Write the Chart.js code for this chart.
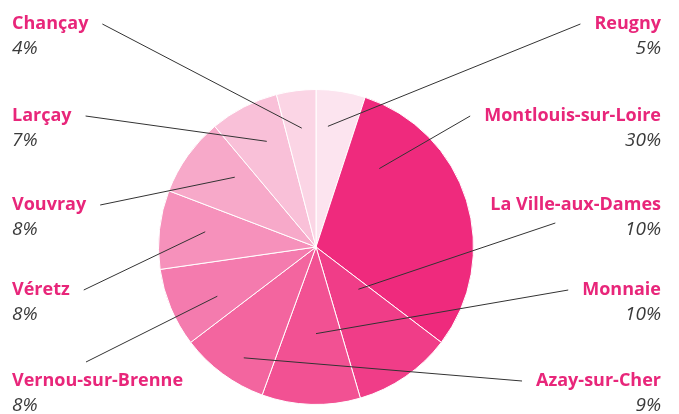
<!DOCTYPE html>
<html>
<head>
<meta charset="utf-8">
<script src="https://cdn.jsdelivr.net/npm/chart.js@4"></script>
<style>
  body { margin: 0; background: #fff; }
  #wrap { width: 679px; height: 414px; }
</style>
</head>
<body>
<div id="wrap"><canvas id="myChart" width="679" height="414"></canvas></div>
<script>
// data, clockwise from the top
const communes = ['Reugny', 'Montlouis-sur-Loire', 'La Ville-aux-Dames', 'Monnaie', 'Azay-sur-Cher',
                  'Vernou-sur-Brenne', 'Véretz', 'Vouvray', 'Larçay', 'Chançay'];
const shares = [5, 30, 10, 10, 9, 8, 8, 8, 7, 4];
const shareLabels = ['5%', '30%', '10%', '10%', '9%', '8%', '8%', '8%', '7%', '4%'];

const sliceColors = ['#fce4ef', '#ef2a7d', '#f03d88', '#f25193', '#f3659f',
                     '#f47bae', '#f691bb', '#f7a9c9', '#f9c0d8', '#fbd5e5'];

// label layout: side + row (0..4 from top)
const labelSide = ['R', 'R', 'R', 'R', 'R', 'L', 'L', 'L', 'L', 'L'];
const labelRow = [0, 1, 2, 3, 4, 4, 3, 2, 1, 0];
const rowY = [24, 116, 205, 290, 381];
// where the leader line ends inside each slice (fraction of angle, fraction of radius)
const leadAngle = [0.31, 0.19, 0.21, 0.45, 0.40, 0.37, 0.55, 0.68, 0.59, 0.53];
const leadRadius = [0.77, 0.64, 0.38, 0.55, 0.84, 0.70, 0.71, 0.68, 0.74, 0.76];

const nameFont = 'bold 18px "Open Sans", sans-serif';
const pctFont = 'italic 19px "Open Sans", sans-serif';

const outsideLabels = {
  id: 'outsideLabels',
  afterDatasetsDraw(chart) {
    const ctx = chart.ctx;
    const arcs = chart.getDatasetMeta(0).data;
    ctx.save();
    arcs.forEach((arc, i) => {
      const left = labelSide[i] === 'L';
      const y = rowY[labelRow[i]];
      const xText = left ? 12 : 661;

      ctx.font = nameFont;
      const w = ctx.measureText(communes[i]).width;
      // leader start
      let sx = left ? xText + w + 14 : xText - w - 14;
      let sy = y;
      if (communes[i] === 'Vernou-sur-Brenne') { sx = 86; sy = y - 19; }
      if (communes[i] === 'La Ville-aux-Dames') { sx = xText - w + 65; sy = y + 18; }

      const p = arc.getProps(['x', 'y', 'startAngle', 'endAngle', 'outerRadius'], true);
      const a = p.startAngle + leadAngle[i] * (p.endAngle - p.startAngle);
      const r = leadRadius[i] * p.outerRadius;
      const ex = p.x + Math.cos(a) * r;
      const ey = p.y + Math.sin(a) * r;

      ctx.strokeStyle = '#333';
      ctx.lineWidth = 1;
      ctx.beginPath();
      ctx.moveTo(sx, sy);
      ctx.lineTo(ex, ey);
      ctx.stroke();

      ctx.textBaseline = 'middle';
      ctx.textAlign = left ? 'left' : 'right';
      ctx.fillStyle = '#e8267a';
      ctx.font = nameFont;
      ctx.fillText(communes[i], xText, y);
      ctx.fillStyle = '#3a3a3a';
      ctx.font = pctFont;
      ctx.fillText(shareLabels[i], xText, y + 25);
    });
    ctx.restore();
  }
};

new Chart(document.getElementById('myChart'), {
  type: 'pie',
  data: {
    labels: communes,
    datasets: [{
      data: shares,
      backgroundColor: sliceColors,
      borderColor: '#fff',
      borderWidth: 1
    }]
  },
  options: {
    responsive: false,
    animation: false,
    layout: { padding: { left: 158, right: 205, top: 89, bottom: 9 } },
    plugins: {
      legend: { display: false },
      tooltip: { enabled: false }
    }
  },
  plugins: [outsideLabels]
});
</script>
</body>
</html>
